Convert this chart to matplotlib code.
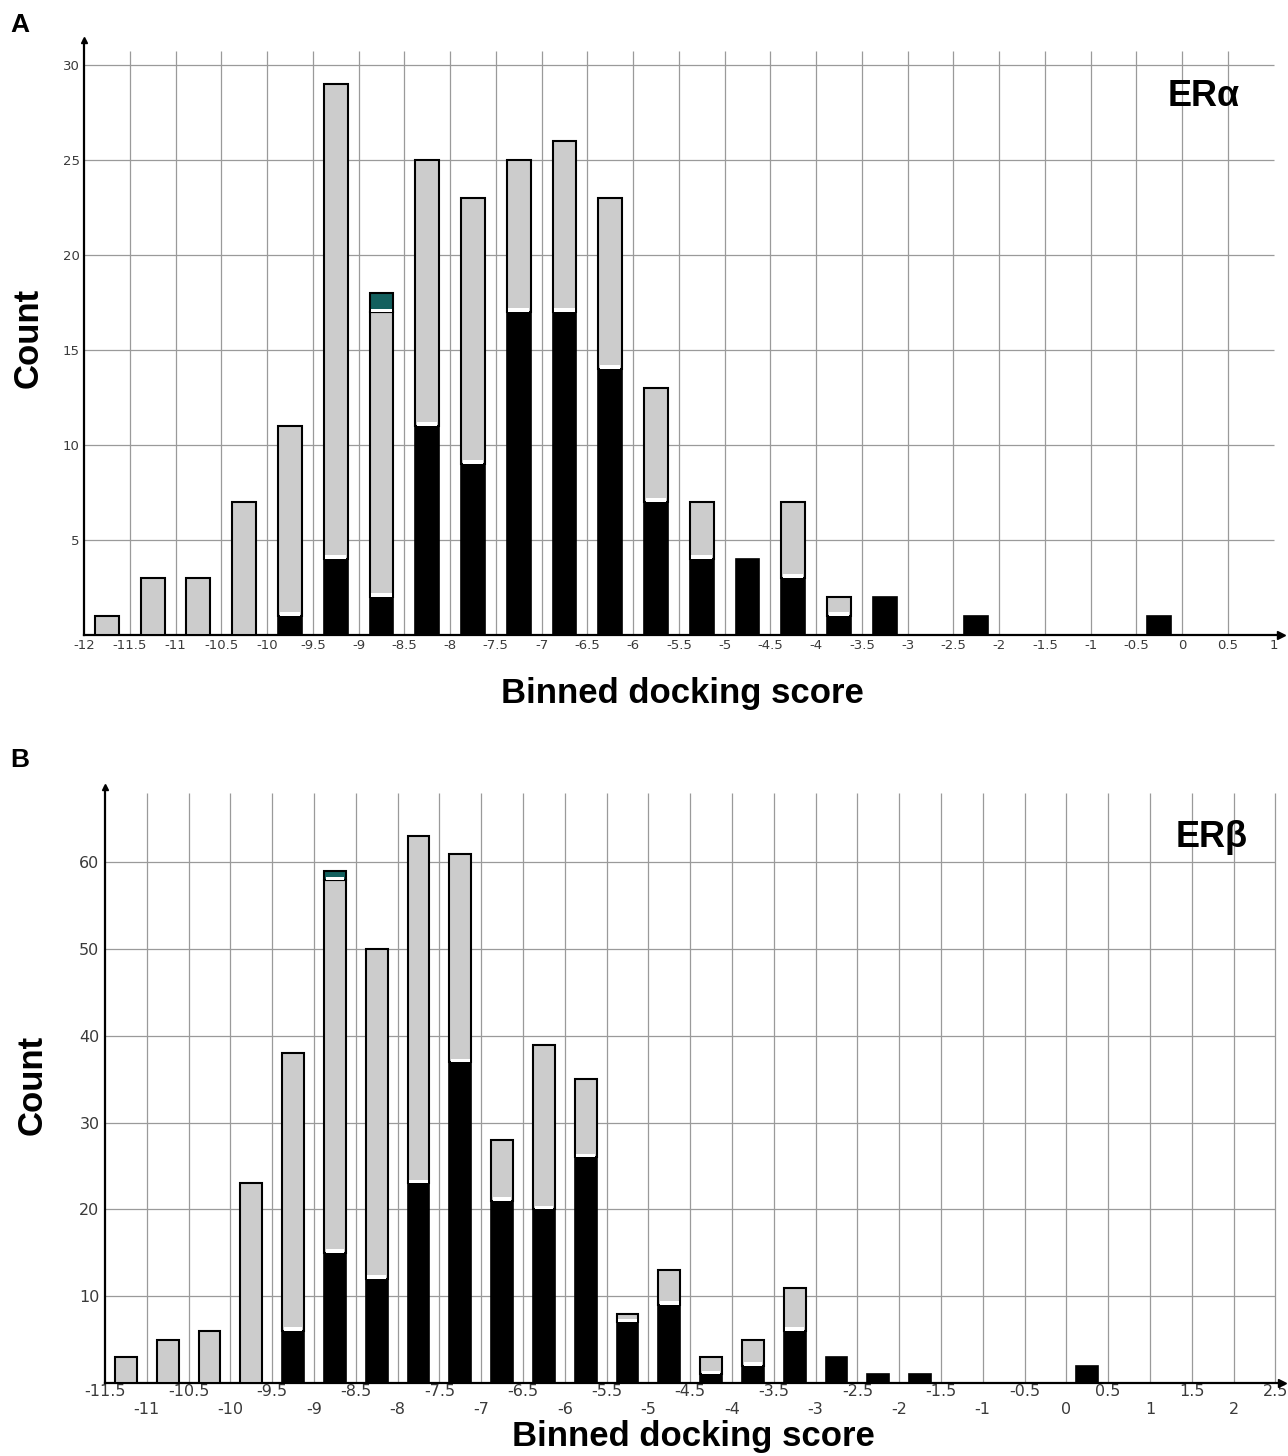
import numpy as np
import matplotlib
matplotlib.use('Agg')
import matplotlib.pyplot as plt

# ER alpha (panel A): bin centres and stacked counts
era_bins = [-11.75, -11.25, -10.75, -10.25, -9.75, -9.25, -8.75, -8.25, -7.75, -7.25,
            -6.75, -6.25, -5.75, -5.25, -4.75, -4.25, -3.75, -3.25, -2.25, -0.25]
era_black = [0, 0, 0, 0, 1, 4, 2, 11, 9, 17, 17, 14, 7, 4, 4, 3, 1, 2, 1, 1]
era_gray = [1, 3, 3, 7, 10, 25, 15, 14, 14, 8, 9, 9, 6, 3, 0, 4, 1, 0, 0, 0]
era_teal = [0, 0, 0, 0, 0, 0, 1, 0, 0, 0, 0, 0, 0, 0, 0, 0, 0, 0, 0, 0]

# ER beta (panel B)
erb_bins = [-11.25, -10.75, -10.25, -9.75, -9.25, -8.75, -8.25, -7.75, -7.25, -6.75,
            -6.25, -5.75, -5.25, -4.75, -4.25, -3.75, -3.25, -2.75, -2.25, -1.75, 0.25]
erb_black = [0, 0, 0, 0, 6, 15, 12, 23, 37, 21, 20, 26, 7, 9, 1, 2, 6, 3, 1, 1, 2]
erb_gray = [3, 5, 6, 23, 32, 43, 38, 40, 24, 7, 19, 9, 1, 4, 2, 3, 5, 0, 0, 0, 0]
erb_teal = [0, 0, 0, 0, 0, 1, 0, 0, 0, 0, 0, 0, 0, 0, 0, 0, 0, 0, 0, 0, 0]

era_xticks = np.arange(-12, 1.01, 0.5)
era_yticks = [5, 10, 15, 20, 25, 30]
erb_major = np.arange(-11, 2.01, 1.0)
erb_minor = np.arange(-11.5, 2.51, 1.0)
erb_yticks = [10, 20, 30, 40, 50, 60]

GRAY = '#cccccc'
TEAL = '#13605e'
GRID = '#9a9a9a'
BOLD = dict(family=['Liberation Sans', 'DejaVu Sans'], fontweight='bold')


def fmt(v):
    return '%g' % v


def draw_bars(ax, bins, black, gray, teal, width, strip):
    bins = np.array(bins, float)
    black = np.array(black, float)
    gray = np.array(gray, float)
    teal = np.array(teal, float)
    ax.bar(bins, black, width=width, color='black', edgecolor='black', linewidth=1.2, zorder=3)
    m = gray > 0
    ax.bar(bins[m], gray[m], bottom=black[m], width=width, color=GRAY,
           edgecolor='black', linewidth=1.5, zorder=3)
    s = m & (black > 0)
    ax.bar(bins[s], strip, bottom=black[s], width=width * 0.86, color='white',
           linewidth=0, zorder=4)
    t = teal > 0
    top = black + gray
    ax.bar(bins[t], teal[t], bottom=top[t], width=width, color=TEAL,
           edgecolor='black', linewidth=1.5, zorder=3)
    ax.bar(bins[t], strip * 0.8, bottom=top[t], width=width * 0.86, color='white',
           linewidth=0, zorder=4)


def style_axes(ax, xlo, xhi, ytop, grid_x, grid_top):
    for sp in ['top', 'right']:
        ax.spines[sp].set_visible(False)
    for sp in ['left', 'bottom']:
        ax.spines[sp].set_linewidth(1.6)
        ax.spines[sp].set_color('black')
    ax.set_xlim(xlo, xhi)
    ax.set_ylim(0, ytop)
    ax.vlines(grid_x, 0, grid_top, color=GRID, linewidth=0.9, zorder=1)
    ax.plot([1], [0], marker='>', color='black', markersize=6,
            transform=ax.get_yaxis_transform(), clip_on=False, zorder=6)
    ax.plot([xlo], [ytop], marker='^', color='black', markersize=5, clip_on=False, zorder=6)


fig = plt.figure(figsize=(12.88, 14.56), dpi=100)

# ---- panel A ----
ax1 = fig.add_axes([84 / 1288, (1456 - 635) / 1456, 1197 / 1288, 595 / 1456])
style_axes(ax1, -12, 1.08, 31.3, np.arange(-11.5, 0.51, 0.5), 30.7)
ax1.hlines(era_yticks, -12, 1.0, color=GRID, linewidth=0.9, zorder=1)
draw_bars(ax1, era_bins, era_black, era_gray, era_teal, 0.26, 0.2)
ax1.set_xticks(era_xticks, [fmt(v) for v in era_xticks])
ax1.set_yticks(era_yticks, [fmt(v) for v in era_yticks])
ax1.tick_params(axis='both', length=0, labelsize=9.5, colors='#3a3a3a')
ax1.tick_params(axis='x', pad=3)
ax1.tick_params(axis='y', pad=3)
ax1.set_xlabel('Binned docking score', fontsize=25, labelpad=18, **BOLD)
ax1.set_ylabel('Count', fontsize=25, labelpad=13, **BOLD)
ax1.text(0.935, 0.905, 'ER\u03b1', transform=ax1.transAxes, fontsize=26, ha='center', va='center', **BOLD)

# ---- panel B ----
ax2 = fig.add_axes([105 / 1288, (1456 - 1383) / 1456, 1177 / 1288, 596 / 1456])
style_axes(ax2, -11.5, 2.58, 68.7, np.arange(-11.0, 2.51, 0.5), 68.0)
ax2.hlines(erb_yticks, -11.5, 2.5, color=GRID, linewidth=0.9, zorder=1)
draw_bars(ax2, erb_bins, erb_black, erb_gray, erb_teal, 0.26, 0.4)
ax2.set_xticks(erb_major, [fmt(v) for v in erb_major])
ax2.set_xticks(erb_minor, [fmt(v) for v in erb_minor], minor=True)
ax2.set_yticks(erb_yticks, [fmt(v) for v in erb_yticks])
ax2.tick_params(axis='both', which='both', length=0, labelsize=11.5, colors='#3a3a3a')
ax2.tick_params(axis='x', which='minor', pad=1)
ax2.tick_params(axis='x', which='major', pad=14)
ax2.tick_params(axis='y', pad=4)
ax2.set_xlabel('Binned docking score', fontsize=25, labelpad=2, **BOLD)
ax2.set_ylabel('Count', fontsize=25, labelpad=22, **BOLD)
ax2.text(0.94, 0.915, 'ER\u03b2', transform=ax2.transAxes, fontsize=26, ha='center', va='center', **BOLD)

fig.text(10 / 1288, 1 - 25 / 1456, 'A', fontsize=19, ha='left', va='center', **BOLD)
fig.text(10 / 1288, 1 - 760 / 1456, 'B', fontsize=19, ha='left', va='center', **BOLD)

fig.savefig('out.png', dpi=100)
